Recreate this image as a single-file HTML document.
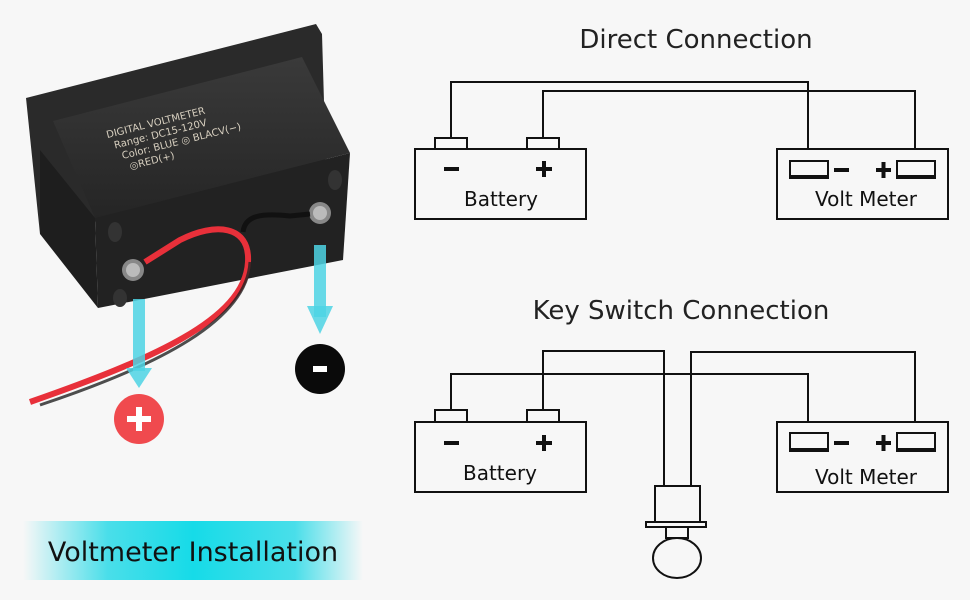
<!DOCTYPE html>
<html><head><meta charset="utf-8"><style>
html,body{margin:0;padding:0;background:#f7f7f7;}
svg{display:block;}
text{font-family:"DejaVu Sans","Liberation Sans",sans-serif;}
</style></head><body>
<svg width="970" height="600" viewBox="0 0 970 600" xmlns="http://www.w3.org/2000/svg">
<defs>
<linearGradient id="ban" x1="0" x2="1" y1="0" y2="0">
<stop offset="0" stop-color="#1ed8e6" stop-opacity="0"/>
<stop offset="0.25" stop-color="#1ed8e6" stop-opacity="0.8"/>
<stop offset="0.5" stop-color="#16dbe8"/>
<stop offset="0.8" stop-color="#1ed8e6" stop-opacity="0.8"/>
<stop offset="1" stop-color="#1ed8e6" stop-opacity="0"/>
</linearGradient>
<linearGradient id="top" x1="0" x2="0" y1="0" y2="1">
<stop offset="0" stop-color="#3a3a3a"/><stop offset="1" stop-color="#252525"/>
</linearGradient>
</defs>
<rect width="970" height="600" fill="#f7f7f7"/>
<!-- device -->
<polygon points="26,98 316,24 322,34 326,170 40,234" fill="#2a2a2a"/>
<polygon points="53,121 302,57 350,153 95,218" fill="url(#top)"/>
<polygon points="40,150 95,218 98,308 40,234" fill="#1e1e1e"/>
<polygon points="95,218 350,153 343,260 98,308" fill="#222"/>
<g fill="#d8d0c0" font-family="Liberation Serif,serif" font-size="10" transform="rotate(-14 180 120)">
<text x="105" y="120">DIGITAL  VOLTMETER</text>
<text x="110" y="132">Range: DC15-120V</text>
<text x="115" y="144">Color: BLUE   ◎   BLACV(−)</text>
<text x="120" y="156">◎RED(+)</text>
</g>
<circle cx="133" cy="270" r="11" fill="#888"/><circle cx="133" cy="270" r="7" fill="#bbb"/>
<circle cx="320" cy="213" r="11" fill="#888"/><circle cx="320" cy="213" r="7" fill="#bbb"/>
<ellipse cx="115" cy="232" rx="7" ry="10" fill="#333"/>
<ellipse cx="120" cy="298" rx="7" ry="9" fill="#333"/>
<ellipse cx="335" cy="180" rx="7" ry="10" fill="#333"/>
<path d="M243,232 C245,215 262,213 290,216 L310,214" stroke="#111" stroke-width="5" fill="none"/>
<path d="M145,262 L180,240 C215,222 250,225 248,262 C245,320 150,360 30,402" stroke="#e8303a" stroke-width="6" fill="none"/>
<path d="M250,262 C247,320 160,365 40,405" stroke="#222" stroke-width="3" fill="none" opacity="0.8"/>
<!-- arrows -->
<rect x="133" y="299" width="12" height="72" fill="#4dd4e4" opacity="0.85"/>
<polygon points="126,368 152,368 139,388" fill="#4dd4e4" opacity="0.85"/>
<rect x="314" y="245" width="12" height="72" fill="#4dd4e4" opacity="0.85"/>
<polygon points="307,306 333,306 320,334" fill="#4dd4e4" opacity="0.85"/>
<circle cx="139" cy="419" r="25" fill="#f04a4e"/>
<rect x="127" y="416" width="24" height="6" fill="#fff"/><rect x="136" y="407" width="6" height="24" fill="#fff"/>
<circle cx="320" cy="369" r="25" fill="#0a0a0a"/>
<rect x="313" y="366" width="14" height="6" fill="#fff"/>
<rect x="23" y="521" width="340" height="59" fill="url(#ban)"/>
<text x="193" y="561" font-size="27" text-anchor="middle" fill="#111">Voltmeter Installation</text>

<!-- Direct connection -->
<text x="696" y="48" font-size="26" text-anchor="middle" fill="#222">Direct Connection</text>
<g stroke="#111" stroke-width="2" fill="none">
<polyline points="451,139 451,82 808,82 808,161"/>
<polyline points="543,139 543,91 915,91 915,160"/>
<rect x="415" y="149" width="171" height="70" fill="#f7f7f7"/>
<rect x="435" y="138" width="32" height="11" fill="#f7f7f7"/>
<rect x="527" y="138" width="32" height="11" fill="#f7f7f7"/>
<rect x="777" y="149" width="171" height="70" fill="#f7f7f7"/>
<rect x="790" y="161" width="38" height="17"/>
<rect x="897" y="161" width="38" height="17"/>
</g>
<rect x="790" y="175" width="38" height="4" fill="#111"/>
<rect x="897" y="175" width="38" height="4" fill="#111"/>
<g fill="#111">
<rect x="444" y="167" width="15" height="4"/>
<rect x="536" y="167" width="16" height="4"/><rect x="542" y="161" width="4" height="16"/>
<rect x="834" y="168" width="15" height="4"/>
<rect x="876" y="168" width="15" height="4"/><rect x="881.5" y="162" width="4" height="16"/>
</g>
<text x="501" y="206" font-size="20" text-anchor="middle" fill="#111">Battery</text>
<text x="866" y="206" font-size="20" text-anchor="middle" fill="#111">Volt Meter</text>

<!-- Key switch -->
<text x="681" y="319" font-size="26" text-anchor="middle" fill="#222">Key Switch Connection</text>
<g stroke="#111" stroke-width="2" fill="none">
<polyline points="451,410 451,374 808,374 808,433"/>
<polyline points="543,410 543,351 664,351 664,486"/>
<polyline points="691,486 691,352 915,352 915,433"/>
<rect x="415" y="422" width="171" height="70" fill="#f7f7f7"/>
<rect x="435" y="410" width="32" height="12" fill="#f7f7f7"/>
<rect x="527" y="410" width="32" height="12" fill="#f7f7f7"/>
<rect x="777" y="422" width="171" height="70" fill="#f7f7f7"/>
<rect x="790" y="433" width="38" height="18"/>
<rect x="897" y="433" width="38" height="18"/>
<rect x="655" y="486" width="45" height="36"/>
<rect x="646" y="522" width="60" height="5"/>
<rect x="666" y="527" width="22" height="11"/>
<ellipse cx="677" cy="558" rx="24" ry="20" fill="#f7f7f7"/>
</g>
<rect x="790" y="448" width="38" height="4" fill="#111"/>
<rect x="897" y="448" width="38" height="4" fill="#111"/>
<g fill="#111">
<rect x="444" y="441" width="15" height="4"/>
<rect x="536" y="441" width="16" height="4"/><rect x="542" y="435" width="4" height="16"/>
<rect x="834" y="441" width="15" height="4"/>
<rect x="876" y="441" width="15" height="4"/><rect x="881.5" y="435" width="4" height="16"/>
</g>
<text x="500" y="480" font-size="20" text-anchor="middle" fill="#111">Battery</text>
<text x="866" y="484" font-size="20" text-anchor="middle" fill="#111">Volt Meter</text>
</svg>
</body></html>
